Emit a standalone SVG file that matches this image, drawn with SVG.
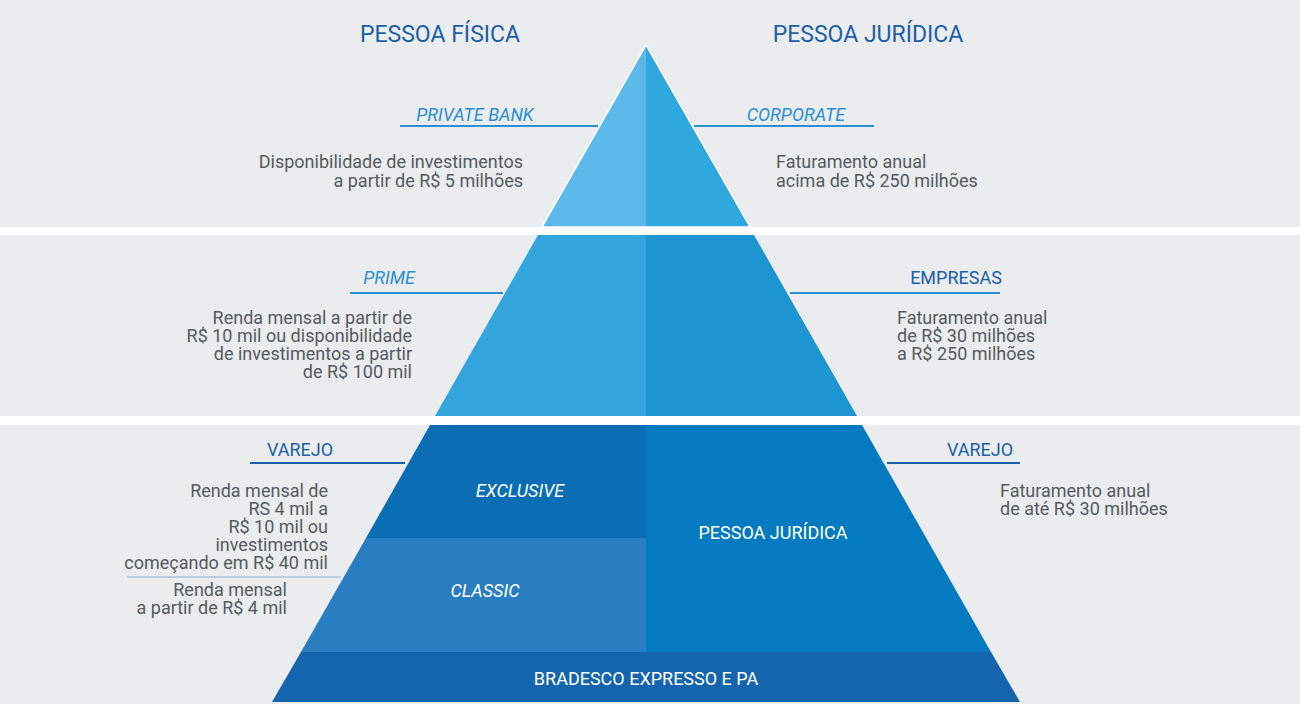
<svg xmlns="http://www.w3.org/2000/svg" width="1300" height="704" viewBox="0 0 1300 704">
<style>
.h{font-family:Roboto,"Liberation Sans",sans-serif;font-size:23px;fill:#1a5fa8}
.l{font-family:Roboto,"Liberation Sans",sans-serif;font-size:18px;fill:#2a90d2;font-style:italic}
.lb{font-family:Roboto,"Liberation Sans",sans-serif;font-size:18px;fill:#1a5fa8}
.t{font-family:Roboto,"Liberation Sans",sans-serif;font-size:18px;fill:#555a60}
.w{font-family:Roboto,"Liberation Sans",sans-serif;font-size:18px;fill:#ffffff}
.ln{stroke:#2a90d2;stroke-width:2}
.ln2{stroke:#1a5fa8;stroke-width:2}
.tier{stroke:#ffffff;stroke-width:1.5}
</style>
<rect width="1300" height="704" fill="#ebecee"/>
<rect x="0" y="227" width="1300" height="8" fill="#ffffff"/>
<rect x="0" y="416" width="1300" height="9" fill="#ffffff"/>
<g id="tier1">
<polygon points="646,45 542,227 646,227" fill="#5bb9ea"/>
<polygon points="646,45 750,227 646,227" fill="#2fa8df"/>
<polygon points="646,45 542,227 750,227" fill="none" class="tier"/>
</g>
<g id="tier2">
<polygon points="538,235 646,235 646,416 435,416" fill="#33a5dc"/>
<polygon points="646,235 754,235 857,416 646,416" fill="#1c95d0"/>
</g>
<g id="tier3">
<polygon points="430,425 646,425 646,538 366,538" fill="#0b6db3"/>
<polygon points="366,538 646,538 646,652 301,652" fill="#2a7dc1"/>
<polygon points="646,425 862,425 991,652 646,652" fill="#047bc1"/>
<polygon points="301,652 991,652 1020,702 272,702" fill="#1565ae"/>
<text class="w" x="520" y="497" text-anchor="middle" font-style="italic">EXCLUSIVE</text>
<text class="w" x="485" y="597" text-anchor="middle" font-style="italic">CLASSIC</text>
<text class="w" x="773" y="539" text-anchor="middle">PESSOA JURÍDICA</text>
<text class="w" x="646" y="685" text-anchor="middle">BRADESCO EXPRESSO E PA</text>
</g>
<g id="headers">
<text class="h" x="440" y="42" text-anchor="middle">PESSOA FÍSICA</text>
<text class="h" x="868" y="42" text-anchor="middle">PESSOA JURÍDICA</text>
</g>
<g id="connectors">
<line class="ln" x1="400" y1="126" x2="598" y2="126"/>
<line class="ln" x1="694" y1="126" x2="874" y2="126"/>
<line class="ln" x1="350" y1="293" x2="503" y2="293"/>
<line class="ln" x1="790" y1="293" x2="1000" y2="293"/>
<line class="ln2" x1="250" y1="463" x2="405" y2="463"/>
<line class="ln2" x1="887" y1="463" x2="1020" y2="463"/>
<line x1="127" y1="577" x2="341" y2="577" stroke="#b9cfe0" stroke-width="2"/>
</g>
<g id="private">
<text class="l" x="475" y="121" text-anchor="middle">PRIVATE BANK</text>
<text class="t" x="523" y="168" text-anchor="end">Disponibilidade de investimentos</text>
<text class="t" x="523" y="187" text-anchor="end">a partir de R$ 5 milhões</text>
</g>
<g id="corporate">
<text class="l" x="796" y="121" text-anchor="middle">CORPORATE</text>
<text class="t" x="776" y="168">Faturamento anual</text>
<text class="t" x="776" y="187">acima de R$ 250 milhões</text>
</g>
<g id="prime">
<text class="l" x="389" y="284" text-anchor="middle">PRIME</text>
<text class="t" x="412" y="324" text-anchor="end">Renda mensal a partir de</text>
<text class="t" x="412" y="342" text-anchor="end">R$ 10 mil ou disponibilidade</text>
<text class="t" x="412" y="360" text-anchor="end">de investimentos a partir</text>
<text class="t" x="412" y="378" text-anchor="end">de R$ 100 mil</text>
</g>
<g id="empresas">
<text class="lb" x="956" y="284" text-anchor="middle">EMPRESAS</text>
<text class="t" x="897" y="324">Faturamento anual</text>
<text class="t" x="897" y="342">de R$ 30 milhões</text>
<text class="t" x="897" y="360">a R$ 250 milhões</text>
</g>
<g id="varejo-pf">
<text class="lb" x="300" y="456" text-anchor="middle">VAREJO</text>
<text class="t" x="328" y="497" text-anchor="end">Renda mensal de</text>
<text class="t" x="328" y="515" text-anchor="end">RS 4 mil a</text>
<text class="t" x="328" y="533" text-anchor="end">R$ 10 mil ou</text>
<text class="t" x="328" y="551" text-anchor="end">investimentos</text>
<text class="t" x="328" y="569" text-anchor="end">começando em R$ 40 mil</text>
<text class="t" x="287" y="596" text-anchor="end">Renda mensal</text>
<text class="t" x="287" y="614" text-anchor="end">a partir de R$ 4 mil</text>
</g>
<g id="varejo-pj">
<text class="lb" x="980" y="456" text-anchor="middle">VAREJO</text>
<text class="t" x="1000" y="497">Faturamento anual</text>
<text class="t" x="1000" y="515">de até R$ 30 milhões</text>
</g>
</svg>
